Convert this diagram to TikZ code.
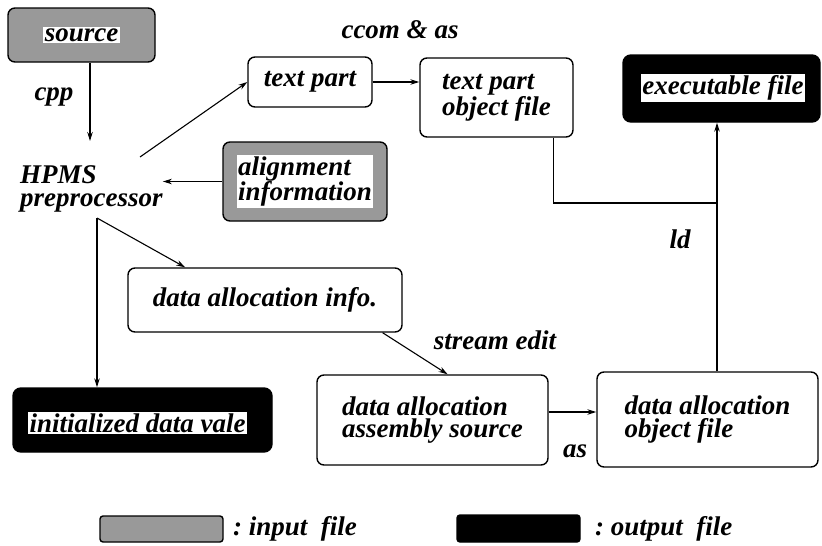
\documentclass[tikz,border=0pt]{standalone}
\usepackage{fontspec}
\setmainfont{Liberation Serif}
\usetikzlibrary{arrows.meta,calc}
\begin{document}
\begin{tikzpicture}[x=1pt,y=-1pt,
  every node/.style={font=\bfseries\itshape\fontsize{27}{22.5}\selectfont},
  box/.style={draw, line width=1.4pt, rounded corners=7pt, inner sep=0pt},
  infile/.style={box, fill=black!40},
  outfile/.style={box, fill=black, rounded corners=8pt},
  plate/.style={fill=white, inner sep=1.5pt},
  lab/.style={inner sep=0pt},
  arr/.style={line width=1.1pt, -{Stealth[length=9pt,width=5.5pt]}},
  wire/.style={line width=1.1pt}]

\useasboundingbox (0,0) rectangle (822,546);

% source and preprocessing
\node[infile, minimum width=147pt, minimum height=54pt] (src) at (81.5,35) {};
\node[plate] (srcT) at (src) {source};
\node[lab, anchor=base] (cpp) at (54,100) {cpp};
\coordinate (cppEnd) at (90,141);
\node[lab, align=left, anchor=west] (hpms) at (20,189) {HPMS\\preprocessor};
\coordinate (hpmsUp) at (140,157);
\coordinate (split) at (97,218);

% text part branch
\node[box, minimum width=124pt, minimum height=50pt] (tp) at (310,82) {text part};
\node[box, minimum width=153pt, minimum height=79pt, align=left] (tpo) at (496.5,97.5) {text part\\object file};
\node[lab, anchor=base] (ccom) at (400,38) {ccom \& as};
\node[outfile, minimum width=197pt, minimum height=67pt] (exe) at (721.5,88.5) {};
\node[plate] (exeT) at (723,88) {executable file};
\node[infile, minimum width=164pt, minimum height=79pt] (aln) at (305,181.5) {};
\node[plate, align=left] (alnT) at (aln) {alignment\\information};
\node[lab, anchor=base] (ld) at (680,248) {ld};
\coordinate (join) at (717,203);

% data allocation branch
\node[box, minimum width=274pt, minimum height=64pt] (dai) at (265,300) {data allocation info.};
\node[lab, anchor=base] (se) at (495,349) {stream edit};
\node[outfile, minimum width=259pt, minimum height=64pt] (init) at (142.5,420) {};
\node[plate] (initT) at (137.5,423) {initialized data vale};
\node[box, minimum width=231pt, minimum height=90pt, align=left] (das) at (432.5,420) {data allocation\\assembly source};
\node[lab, anchor=base] (asl) at (575,457) {as};
\node[box, minimum width=221pt, minimum height=95pt, align=left] (dao) at (707.5,419.5) {data allocation\\object file};

% legend
\node[infile, rounded corners=3pt, minimum width=123pt, minimum height=26pt] (keyIn) at (161.5,529) {};
\node[lab, anchor=base west] (keyInT) at (233,535) {:\ input\ \ file};
\node[outfile, rounded corners=3pt, minimum width=123pt, minimum height=27pt] (keyOut) at (518.5,528.5) {};
\node[lab, anchor=base west] (keyOutT) at (595,535) {:\ output\ \ file};

% connectors
\draw[arr] (src.south -| cppEnd) -- (cppEnd);
\draw[arr] (hpmsUp) -- (tp.west);
\draw[arr] (tp.east) -- (tp.east -| tpo.west);
\draw[arr] (aln.west) -- (aln.west -| hpms.east);
\draw[arr] (split) -- (split |- init.north);
\draw[arr] (split) -- ($(dai.north west)!0.21!(dai.north east)$);
\draw[arr] ($(dai.south west)!0.927!(dai.south east)$) -- ($(das.north west)!0.565!(das.north east)$);
\draw[arr] ([yshift=8pt]das.east) -- ([yshift=8pt]das.east -| dao.west);
\draw[wire] ($(tpo.south west)!0.87!(tpo.south east)$) |- (join);
\draw[arr] (join |- dao.north) -- (join |- exe.south);
\end{tikzpicture}
\end{document}
